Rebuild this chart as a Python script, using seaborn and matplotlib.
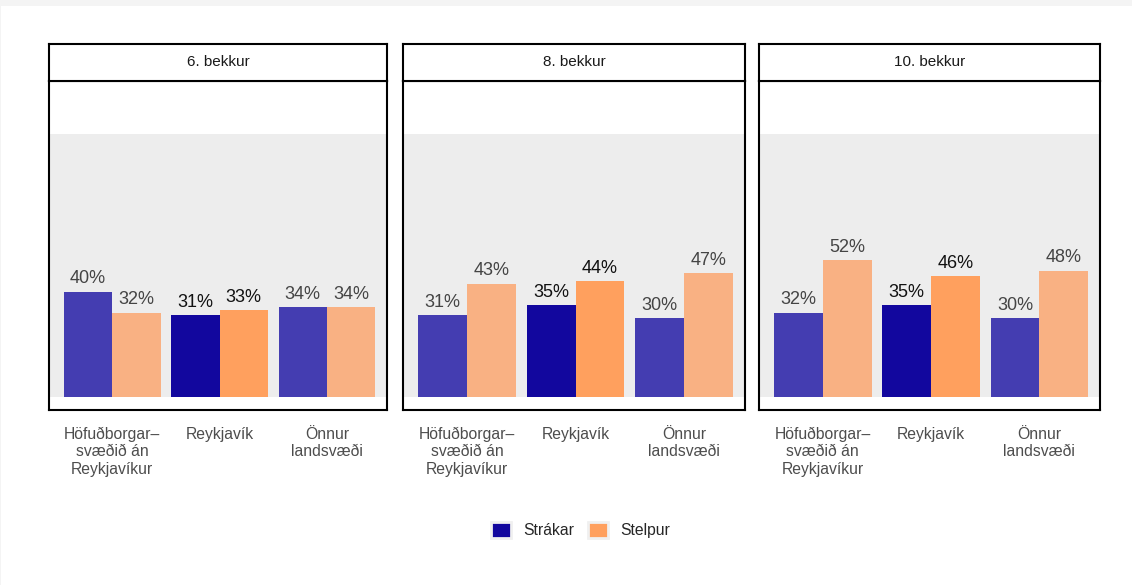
import numpy as np
import pandas as pd
import matplotlib
matplotlib.use("Agg")
import matplotlib.pyplot as plt
import matplotlib.patches as mpatches
import seaborn as sns

# data
grades = ["6. bekkur", "8. bekkur", "10. bekkur"]
regions = ["Höfuðborgar–\nsvæðið án\nReykjavíkur", "Reykjavík", "Önnur\nlandsvæði"]
genders = ["Strákar", "Stelpur"]
boys = {"6. bekkur": [40, 31, 34], "8. bekkur": [31, 35, 30], "10. bekkur": [32, 35, 30]}
girls = {"6. bekkur": [32, 33, 34], "8. bekkur": [43, 44, 47], "10. bekkur": [52, 46, 48]}

# Reykjavík is highlighted, the others drawn in lighter shades
dark = {"Strákar": "#12079E", "Stelpur": "#FFA05E"}
light = {"Strákar": "#443DB1", "Stelpur": "#F9B183"}

rows = []
for g in grades:
    for i, r in enumerate(regions):
        rows.append({"grade": g, "region": r, "gender": "Strákar", "value": boys[g][i]})
        rows.append({"grade": g, "region": r, "gender": "Stelpur", "value": girls[g][i]})
df = pd.DataFrame(rows)

sns.set_theme(style="white")
plt.rcParams["font.family"] = ["Liberation Sans", "DejaVu Sans"]

W, H = 1132, 585
fig = plt.figure(figsize=(W / 100, H / 100), dpi=100)
fig.patch.set_facecolor("white")
# thin light grey frame at the top/left like the reference
fig.add_artist(mpatches.Rectangle((0, 1 - 6 / H), 1, 6 / H, transform=fig.transFigure,
                                  facecolor="#f4f4f4", edgecolor="none"))
fig.add_artist(mpatches.Rectangle((0, 0), 1.2 / W, 1, transform=fig.transFigure,
                                  facecolor="#f4f4f4", edgecolor="none"))

panels = [(49, 387), (403, 745), (759, 1100)]
top, bottom, strip_top = 81, 410, 44

for (x0, x1), g in zip(panels, grades):
    ax = fig.add_axes([x0 / W, 1 - bottom / H, (x1 - x0) / W, (bottom - top) / H])
    sub = df[df["grade"] == g]
    sns.barplot(data=sub, x="region", y="value", hue="gender", order=regions,
                hue_order=genders, palette=dark, width=0.9, saturation=1,
                legend=False, ax=ax)
    ax.axhspan(0, 100, color="#ededed", zorder=0, lw=0)
    for c, gender in zip(ax.containers, genders):
        for i, bar in enumerate(c):
            bar.set_facecolor(dark[gender] if i == 1 else light[gender])
            bar.set_edgecolor("none")
        txts = ax.bar_label(c, labels=[f"{v:.0f}%" for v in c.datavalues],
                            padding=3, fontsize=13)
        for i, t in enumerate(txts):
            t.set_color("#111111" if i == 1 else "#444444")
    ax.set_ylim(-5, 120)
    ax.set_xlim(-0.59, 2.56)
    ax.set_xlabel("")
    ax.set_ylabel("")
    ax.set_yticks([])
    ax.tick_params(axis="x", length=0, pad=12, labelsize=11.3, labelcolor="#4d4d4d")
    for s in ax.spines.values():
        s.set_linewidth(1.5)
        s.set_color("black")

    # facet strip
    sax = fig.add_axes([x0 / W, 1 - top / H, (x1 - x0) / W, (top - strip_top) / H])
    sax.set_xticks([])
    sax.set_yticks([])
    sax.set_facecolor("white")
    for s in sax.spines.values():
        s.set_linewidth(1.5)
        s.set_color("black")
    sax.text(0.5, 0.5, g, ha="center", va="center", fontsize=11, color="#1a1a1a",
             transform=sax.transAxes)

handles = [mpatches.Patch(facecolor=dark[k], edgecolor="#f0f0f0", linewidth=2, label=k)
           for k in genders]
fig.legend(handles=handles, loc="center", bbox_to_anchor=(0.513, 1 - 530 / H), ncol=2,
           frameon=False, fontsize=11.3, handlelength=1.25, handleheight=1.25,
           columnspacing=0.9, handletextpad=0.8)

fig.savefig("out.png", dpi=100, facecolor="white")
